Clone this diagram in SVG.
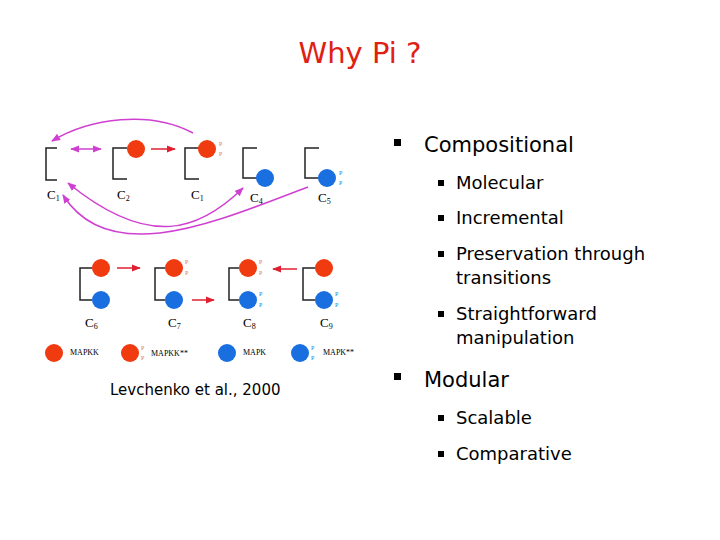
<svg xmlns="http://www.w3.org/2000/svg" width="720" height="540" viewBox="0 0 720 540">
<style>
.t{font-family:"DejaVu Sans",sans-serif;fill:#000}
.l1{font-size:21px}.l2{font-size:18px}
.b{fill:none;stroke:#222;stroke-width:1.5}
.r{fill:#f03a10}.bl{fill:#1a6fe0}
.po{font-family:"Liberation Serif",serif;font-size:6px;fill:#e08020}
.pb{font-family:"Liberation Serif",serif;font-size:6px;fill:#2080e0}
.c{font-family:"Liberation Serif",serif;font-size:13px;fill:#000}
.lg{font-family:"Liberation Serif",serif;font-size:8px;fill:#000}
.m{fill:none;stroke:#d040d0;stroke-width:1.5}
.ra{fill:none;stroke:#e02030;stroke-width:1.5}
</style>
<defs>
<marker id="am" viewBox="0 0 10 10" refX="9" refY="5" markerWidth="6" markerHeight="6" orient="auto-start-reverse"><path d="M0,1L10,5L0,9z" fill="#d040d0"/></marker>
<marker id="ar" viewBox="0 0 10 10" refX="9" refY="5" markerWidth="6" markerHeight="6" orient="auto"><path d="M0,1L10,5L0,9z" fill="#e02030"/></marker>
</defs>
<rect width="720" height="540" fill="#fff"/>
<text x="360" y="63" text-anchor="middle" font-family="DejaVu Sans,sans-serif" font-size="29" fill="#e02010">Why Pi ?</text>
<g id="figure">
<g id="c1"><path class="b" d="M57,148H46V180H57"/><text class="c" x="47" y="199">C<tspan font-size="8" dy="2">1</tspan></text></g>
<g id="c2"><path class="b" d="M127,148H113V179H127"/><circle class="r" cx="136" cy="149" r="9"/><text class="c" x="117" y="199">C<tspan font-size="8" dy="2">2</tspan></text></g>
<g id="c3"><path class="b" d="M199,148H185V179H199"/><circle class="r" cx="207" cy="149" r="9"/><text class="po" x="219" y="146">P</text><text class="po" x="219" y="156">P</text><text class="c" x="191" y="199">C<tspan font-size="8" dy="2">1</tspan></text></g>
<g id="c4"><path class="b" d="M257,148H243V178H257"/><circle class="bl" cx="265" cy="178" r="9"/><text class="c" x="250" y="202">C<tspan font-size="8" dy="2">4</tspan></text></g>
<g id="c5"><path class="b" d="M319,148H305V178H319"/><circle class="bl" cx="327" cy="178" r="9"/><text class="pb" x="339" y="175">P</text><text class="pb" x="339" y="185">P</text><text class="c" x="318" y="202">C<tspan font-size="8" dy="2">5</tspan></text></g>
<g id="c6"><path class="b" d="M92,268H80V300H92"/><circle class="r" cx="101" cy="268" r="9"/><circle class="bl" cx="101" cy="300" r="9"/><text class="c" x="85" y="327">C<tspan font-size="8" dy="2">6</tspan></text></g>
<g id="c7"><path class="b" d="M165,268H155V300H165"/><circle class="r" cx="174" cy="268" r="9"/><circle class="bl" cx="174" cy="300" r="9"/><text class="po" x="185" y="264">P</text><text class="po" x="185" y="275">P</text><text class="c" x="168" y="327">C<tspan font-size="8" dy="2">7</tspan></text></g>
<g id="c8"><path class="b" d="M239,268H229V300H239"/><circle class="r" cx="248" cy="268" r="9"/><circle class="bl" cx="248" cy="300" r="9"/><text class="po" x="259" y="264">P</text><text class="po" x="259" y="275">P</text><text class="pb" x="259" y="296">P</text><text class="pb" x="259" y="307">P</text><text class="c" x="243" y="327">C<tspan font-size="8" dy="2">8</tspan></text></g>
<g id="c9"><path class="b" d="M315,268H303V300H315"/><circle class="r" cx="324" cy="268" r="9"/><circle class="bl" cx="324" cy="300" r="9"/><text class="pb" x="335" y="296">P</text><text class="pb" x="335" y="307">P</text><text class="c" x="320" y="327">C<tspan font-size="8" dy="2">9</tspan></text></g>
<g id="legend">
<circle class="r" cx="54" cy="353" r="9"/><text class="lg" x="70" y="355">MAPKK</text>
<circle class="r" cx="130" cy="353" r="9"/><text class="po" x="141" y="350">P</text><text class="po" x="141" y="360">P</text><text class="lg" x="151" y="356">MAPKK**</text>
<circle class="bl" cx="227" cy="353" r="9"/><text class="lg" x="243" y="355">MAPK</text>
<circle class="bl" cx="300" cy="353" r="9"/><text class="pb" x="311" y="350">P</text><text class="pb" x="311" y="360">P</text><text class="lg" x="323" y="355">MAPK**</text>
</g>
<g id="connectors">
<path class="m" d="M71,149H101" marker-start="url(#am)" marker-end="url(#am)"/>
<path class="ra" d="M151,149H175" marker-end="url(#ar)"/>
<path class="m" d="M193,133C150,110 90,118 52,141" marker-end="url(#am)"/>
<path class="m" d="M243,188C200,230 150,250 68,183" marker-start="url(#am)" marker-end="url(#am)"/>
<path class="m" d="M308,187C220,220 110,270 63,195" marker-end="url(#am)"/>
<path class="ra" d="M117,268H140" marker-end="url(#ar)"/>
<path class="ra" d="M192,300H214" marker-end="url(#ar)"/>
<path class="ra" d="M297,269H273" marker-end="url(#ar)"/>
</g>
</g>
<text class="t" x="110" y="395" font-size="15">Levchenko et al., 2000</text>
<g id="bullets">
<rect x="394" y="139" width="7" height="7" fill="#000"/><text class="t l1" x="424" y="152">Compositional</text>
<rect x="438" y="180" width="6" height="6"/><text class="t l2" x="456" y="189">Molecular</text>
<rect x="438" y="215" width="6" height="6"/><text class="t l2" x="456" y="224">Incremental</text>
<rect x="438" y="251" width="6" height="6"/><text class="t l2" x="456" y="260">Preservation through</text><text class="t l2" x="456" y="284">transitions</text>
<rect x="438" y="311" width="6" height="6"/><text class="t l2" x="456" y="320">Straightforward</text><text class="t l2" x="456" y="344">manipulation</text>
<rect x="394" y="373" width="7" height="7"/><text class="t l1" x="424" y="387">Modular</text>
<rect x="438" y="415" width="6" height="6"/><text class="t l2" x="456" y="424">Scalable</text>
<rect x="438" y="451" width="6" height="6"/><text class="t l2" x="456" y="460">Comparative</text>
</g>
</svg>
